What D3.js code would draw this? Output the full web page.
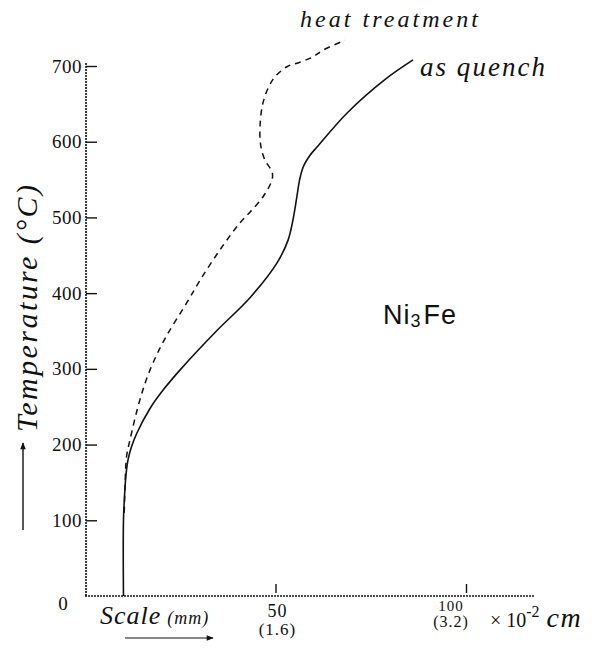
<!DOCTYPE html>
<html><head><meta charset="utf-8">
<script src="https://cdn.jsdelivr.net/npm/d3@7"></script>
<style>
html,body{margin:0;padding:0;background:#fff;}
text{fill:#111;}
</style>
</head><body>
<svg id="c" width="610" height="648"></svg>
<script>
// ---- data ----
const tempTicks = [100, 200, 300, 400, 500, 600, 700];
const scaleTicks = [50, 100];
const scaleTickMM = ["50", "100"];
const scaleTickCm = ["(1.6)", "(3.2)"];

// as quench (solid): temperature (°C) vs expansion scale (mm)
const quenchT = [0, 100, 143, 162, 180, 197, 215, 248, 272, 300, 350, 394, 440, 470, 497, 527, 549, 567, 583, 593, 638, 682, 708];
const quenchD = [10.1, 10.1, 10.5, 10.8, 11.3, 12.2, 13.6, 17.1, 20.5, 25.2, 34.5, 43.3, 50.4, 53.3, 54.6, 55.6, 56.3, 57.3, 59.2, 60.9, 68.8, 78.7, 86.1];

// heat treatment (dashed)
const heatT = [110, 143, 184, 206, 259, 299, 340, 388, 417, 457, 493, 507, 527, 550, 560, 576, 593, 612, 651, 682, 699, 705, 712, 721, 734];
const heatD = [10.3, 10.5, 10.9, 11.8, 14.4, 17.1, 21.0, 26.8, 30.2, 35.4, 40.7, 43.3, 46.7, 49.1, 49.1, 47.2, 46.2, 45.9, 46.7, 49.3, 53.0, 56.4, 59.8, 62.5, 68.2];

// ---- chart ----
const svg = d3.select("#c");
const x = d3.scaleLinear().domain([0, 100]).range([85, 466]);
const y = d3.scaleLinear().domain([0, 700]).range([596, 66]);
const ink = "#111";
const serif = "'Liberation Serif','DejaVu Serif',serif";

// axes lines (dotted)
svg.append("line").attr("x1", x(0)+1).attr("x2", x(0)+1).attr("y1", y(0)).attr("y2", y(705))
  .attr("stroke", ink).attr("stroke-width", 1.6).attr("stroke-dasharray", "2,1");
svg.append("line").attr("x1", x(0)).attr("x2", x(118)).attr("y1", y(0)).attr("y2", y(0))
  .attr("stroke", ink).attr("stroke-width", 1.6).attr("stroke-dasharray", "2,1");

// y axis ticks
const yAxis = d3.axisLeft(y).tickValues(tempTicks).tickSizeInner(-11).tickSizeOuter(0).tickPadding(4);
const gy = svg.append("g").attr("transform", `translate(${x(0)+1},0)`).call(yAxis);
gy.select(".domain").remove();
gy.selectAll("line").attr("stroke", ink).attr("stroke-width", 1.4);
gy.selectAll("text").attr("font-family", serif).attr("font-size", 19).attr("fill", ink)
  .attr("letter-spacing", 0.5);

// origin label
svg.append("text").attr("x", 63).attr("y", y(0)+14).attr("text-anchor", "middle")
  .attr("font-family", serif).attr("font-size", 19).text("0");

// x axis ticks
const xAxis = d3.axisBottom(x).tickValues(scaleTicks).tickSizeInner(-9).tickSizeOuter(0).tickFormat("");
const gx = svg.append("g").attr("transform", `translate(0,${y(0)-3})`).call(xAxis);
gx.select(".domain").remove();
gx.selectAll("line").attr("stroke", ink).attr("stroke-width", 1.4);

const lblOff = [2, -15];
const lblY1 = [617, 611];
const lblY2 = [635, 627];
const lblS1 = [18, 15];
const lblS2 = [17, 16];
scaleTicks.forEach((t, i) => {
  svg.append("text").attr("x", x(t)+lblOff[i]).attr("y", lblY1[i]).attr("text-anchor", "middle")
    .attr("font-family", serif).attr("font-size", lblS1[i]).attr("letter-spacing", 1).text(scaleTickMM[i]);
  svg.append("text").attr("x", x(t)+lblOff[i]).attr("y", lblY2[i]).attr("text-anchor", "middle")
    .attr("font-family", serif).attr("font-size", lblS2[i]).attr("letter-spacing", 1).text(scaleTickCm[i]);
});

// × 10^-2 cm
const unit = svg.append("text").attr("x", 490).attr("y", 627).attr("font-family", serif).attr("font-size", 20);
unit.append("tspan").text("×");
unit.append("tspan").attr("dx", 5).text("10");
unit.append("tspan").attr("dy", -10).attr("font-size", 16).text("-2");
unit.append("tspan").attr("dy", 10).attr("dx", 7).attr("font-style", "italic").attr("font-size", 28)
  .attr("letter-spacing", 1.5).text("cm");

// Scale (mm)
const sc = svg.append("text").attr("x", 100).attr("y", 624).attr("font-family", serif);
sc.append("tspan").attr("font-size", 26).attr("font-style", "italic").attr("letter-spacing", 1).text("Scale");
sc.append("tspan").attr("font-size", 18).attr("font-style", "italic").attr("dx", 6).attr("letter-spacing", 1).text("(mm)");

// arrow marker
svg.append("defs").append("marker").attr("id", "arr").attr("viewBox", "0 0 10 10")
  .attr("refX", 9).attr("refY", 5).attr("markerWidth", 9).attr("markerHeight", 7)
  .attr("markerUnits", "userSpaceOnUse").attr("orient", "auto")
  .append("path").attr("d", "M0,1 L10,5 L0,9 Z").attr("fill", ink);

svg.append("line").attr("x1", 125).attr("x2", 213).attr("y1", 638).attr("y2", 638)
  .attr("stroke", ink).attr("stroke-width", 1.2).attr("marker-end", "url(#arr)");
svg.append("line").attr("x1", 23).attr("x2", 23).attr("y1", 530).attr("y2", 443)
  .attr("stroke", ink).attr("stroke-width", 1.4).attr("marker-end", "url(#arr)");

// y title
svg.append("text").attr("transform", "translate(37,432) rotate(-90)")
  .attr("font-family", serif).attr("font-style", "italic").attr("font-size", 30)
  .attr("textLength", 247).attr("lengthAdjust", "spacing").text("Temperature (°C)");

// curves
const line = d3.line().x(d => x(d[0])).y(d => y(d[1])).curve(d3.curveCatmullRom.alpha(0.5));
const quench = quenchT.map((t, i) => [quenchD[i], t]);
const heat = heatT.map((t, i) => [heatD[i], t]);

svg.append("path").attr("d", line(quench)).attr("fill", "none").attr("stroke", ink).attr("stroke-width", 1.6);
svg.append("path").attr("d", line(heat)).attr("fill", "none").attr("stroke", ink).attr("stroke-width", 1.5)
  .attr("stroke-dasharray", "6,5");

// labels
svg.append("text").attr("x", 300).attr("y", 27).attr("font-family", serif).attr("font-style", "italic")
  .attr("font-size", 24).attr("textLength", 178).attr("lengthAdjust", "spacing").text("heat treatment");
svg.append("text").attr("x", 420).attr("y", 76).attr("font-family", serif).attr("font-style", "italic")
  .attr("font-size", 27).attr("textLength", 125).attr("lengthAdjust", "spacing").text("as quench");

const ni = svg.append("text").attr("x", 383).attr("y", 324).attr("font-family", "'Liberation Sans','DejaVu Sans',sans-serif")
  .attr("font-size", 27).attr("letter-spacing", 1);
ni.append("tspan").text("Ni");
ni.append("tspan").attr("dy", 3).attr("font-size", 18).text("3");
ni.append("tspan").attr("dy", -3).attr("dx", 2).text("Fe");
</script>
</body></html>
